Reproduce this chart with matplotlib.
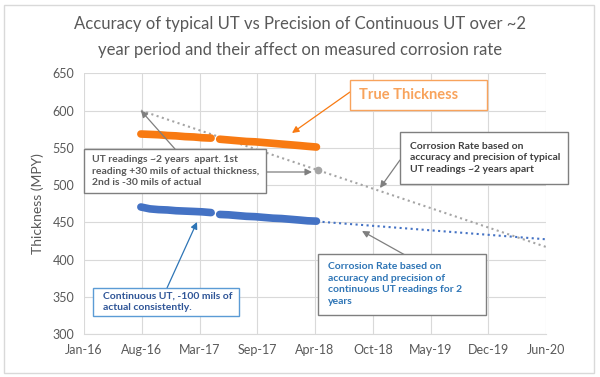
import datetime as dt
import matplotlib
matplotlib.use("Agg")
import matplotlib.pyplot as plt
import matplotlib.dates as mdates
from matplotlib.patches import Rectangle
import numpy as np

plt.rcParams['font.family'] = ['Lato', 'DejaVu Sans']

# continuous UT readings (monthly), with a gap in spring 2017
dates_a = [dt.date(2016, m, 15) for m in range(8, 13)] + [dt.date(2017, m, 15) for m in range(1, 5)]
dates_b = [dt.date(2017, m, 15) for m in range(5, 13)] + [dt.date(2018, m, 15) for m in range(1, 5)]
true_a = [568.5, 568, 567.5, 566.5, 566, 565, 564.5, 563.5, 563]
true_b = [561.5, 560.5, 559.5, 558.5, 558, 557, 556, 555, 554, 553, 552, 551]
cont_a = [470.5, 468, 467, 466.5, 465.5, 465, 464.5, 464, 463]
cont_b = [460.5, 460, 459, 458, 457.5, 456.5, 455.5, 455, 454, 453, 452, 451.5]

# two typical UT readings ~2 years apart
ut_dates = [dt.date(2016, 8, 15), dt.date(2018, 4, 20)]
ut_vals = [600, 520]

x_start = dt.date(2016, 1, 31)
x_end = x_start + dt.timedelta(days=1600)
tick_dates = [x_start + dt.timedelta(days=200 * i) for i in range(9)]

orange = '#F87A12'
blue = '#4472C4'
grey = '#A5A5A5'
txt = '#595959'

W, H = 600, 377
fig = plt.figure(figsize=(6, 3.77), dpi=100)
ax = fig.add_axes([84 / W, 1 - 334 / H, 462 / W, (334 - 73.3) / H])

def fx(x, y):
    return (x / W, 1 - y / H)

# trendlines (linear fits, forecast to the end of the axis)
dn = lambda d: mdates.date2num(d)
ut_x = dn(ut_dates)
p = np.polyfit(ut_x, ut_vals, 1)
tx = np.array([ut_x[0], dn(x_end)])
ax.plot(mdates.num2date(tx), np.polyval(p, tx), ':', color=grey, lw=1.5, zorder=2)

cx = np.concatenate([dn(dates_a), dn(dates_b)])
cy = np.array(cont_a + cont_b)
p2 = np.polyfit(cx, cy, 1)
tx2 = np.array([cx[0], dn(x_end)])
ax.plot(mdates.num2date(tx2), np.polyval(p2, tx2), ':', color=blue, lw=1.5, zorder=2)

ax.plot(ut_dates[1:], ut_vals[1:], 'o', color=grey, ms=4.5, zorder=3)

for d, v in [(dates_a, true_a), (dates_b, true_b)]:
    ax.plot(d, v, '-', color=orange, lw=5.5, solid_capstyle='round', zorder=3)
for d, v in [(dates_a, cont_a), (dates_b, cont_b)]:
    ax.plot(d, v, '-', color=blue, lw=5.5, solid_capstyle='round', zorder=3)

ax.set_xlim(x_start, x_end)
ax.set_ylim(300, 650)
ax.set_yticks(range(300, 651, 50))
ax.set_xticks(tick_dates)
ax.xaxis.set_major_formatter(mdates.DateFormatter('%b-%y'))
ax.grid(True, color='#D9D9D9', lw=0.8)
ax.set_axisbelow(True)
for s in ['top', 'right', 'left']:
    ax.spines[s].set_visible(False)
ax.spines['bottom'].set_color('#D9D9D9')
ax.tick_params(length=0, colors=txt, labelsize=9, pad=7)
ax.set_ylabel('Thickness (MPY)', color=txt, fontsize=10, labelpad=6)

fig.text(0.5, 1 - 24 / H, 'Accuracy of typical UT vs Precision of Continuous UT over ~2',
         ha='center', va='center', fontsize=12, color=txt)
fig.text(0.5, 1 - 50 / H, 'year period and their affect on measured corrosion rate',
         ha='center', va='center', fontsize=12, color=txt)

def box(x0, y0, x1, y1, ec):
    fig.patches.append(Rectangle(fx(x0, y1), (x1 - x0) / W, (y1 - y0) / H,
                                 transform=fig.transFigure, fc='white', ec=ec, lw=1, zorder=5))

def arrow(xy, tail, color, coords='figure fraction'):
    ax.annotate('', xy=xy, xycoords=coords, xytext=tail, textcoords='figure fraction',
                arrowprops=dict(arrowstyle='-|>', color=color, lw=0.9, mutation_scale=10,
                                shrinkA=0, shrinkB=0), zorder=6)

# True Thickness
box(350, 80, 487, 110, '#F8A35C')
fig.text(359 / W, 1 - 95 / H, 'True Thickness', fontsize=10.5, weight='bold', color='#F8A35C',
         va='center', zorder=6)
arrow(fx(292, 133), fx(350, 92), orange)

# typical UT box
box(84, 149, 266, 193, '#7F7F7F')
fig.text(92 / W, 1 - 171 / H, 'UT readings ~2 years  apart. 1st\nreading +30 mils of actual thickness,\n2nd is -30 mils of actual',
         fontsize=7.5, weight='bold', color=txt, va='center', linespacing=1.35, zorder=6)
arrow((ut_dates[0], ut_vals[0]), fx(175, 149), '#7F7F7F', 'data')
arrow(fx(312, 172), fx(266, 172), '#7F7F7F')

# corrosion rate typical
box(400, 132, 568, 184, '#7F7F7F')
fig.text(410 / W, 1 - 158 / H, 'Corrosion Rate based on\naccuracy and precision of typical\nUT readings ~2 years apart',
         fontsize=7.5, weight='bold', color='#404040', va='center', linespacing=1.35, zorder=6)
arrow(fx(380, 188), fx(400, 160), '#7F7F7F')

# corrosion rate continuous
box(318, 254, 486, 315, '#7F7F7F')
fig.text(328 / W, 1 - 284 / H, 'Corrosion Rate based on\naccuracy and precision of\ncontinuous UT readings for 2\nyears',
         fontsize=7.5, weight='bold', color='#2E75B6', va='center', linespacing=1.35, zorder=6)
arrow(fx(362, 231), fx(405, 255), '#7F7F7F')

# continuous UT box
box(93, 288, 239, 316, '#5B9BD5')
fig.text(103 / W, 1 - 302 / H, 'Continuous UT, -100 mils of\nactual consistently.',
         fontsize=7.5, weight='bold', color='#2F5597', va='center', linespacing=1.35, zorder=6)
arrow(fx(197, 222), fx(167, 288), '#2E75B6')

# chart border
fig.patches.append(Rectangle((4 / W, 4 / H), 590 / W, 368 / H, transform=fig.transFigure,
                             fc='none', ec='#D9D9D9', lw=1))

fig.savefig('out.png', dpi=100)
